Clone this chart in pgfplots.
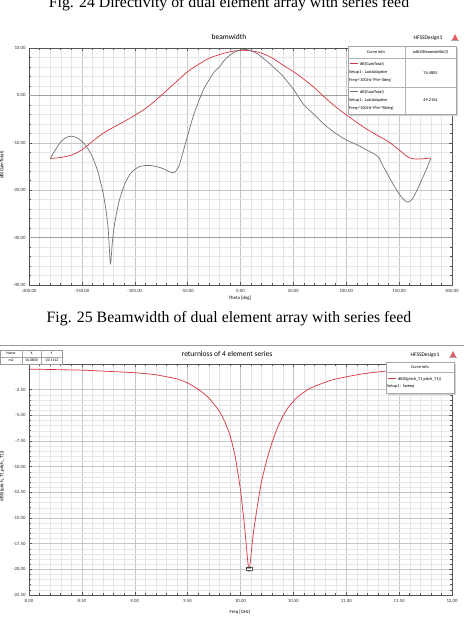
\documentclass[border=0pt]{standalone}
\usepackage{pgfplots}
\pgfplotsset{compat=1.18}
\usepackage{pgfplotstable}
\usepackage{fontspec}
\setmainfont{Liberation Serif}
\newfontfamily\hf{Carlito}

\definecolor{hfred}{RGB}{214,52,62}
\definecolor{hfgray}{RGB}{118,112,118}
\definecolor{gridmaj}{RGB}{198,198,198}
\definecolor{gridmin}{RGB}{230,230,230}
\definecolor{axcol}{RGB}{85,85,85}

% Radiation pattern cuts at 10 GHz (theta in deg, gain in dB)
\pgfplotstableread{
theta gain
-180 -13.3
-170 -13.1
-160 -12.6
-150 -11.5
-140 -9.7
-130 -8.0
-120 -6.7
-110 -5.5
-100 -4.2
-90 -2.8
-80 -1.0
-70 1.0
-60 3.0
-50 5.0
-40 6.5
-30 7.8
-20 8.6
-10 9.2
0 9.5
10 9.4
20 8.9
30 7.9
40 6.4
50 5.0
60 3.4
70 1.6
80 -0.5
90 -2.4
100 -4.1
110 -5.7
120 -7.2
130 -8.5
140 -9.8
150 -11.5
160 -13.2
170 -13.4
180 -13.2
}\phizero

\pgfplotstableread{
theta gain
-180 -13.3
-175 -11.5
-170 -9.8
-165 -8.9
-160 -8.6
-155 -8.9
-150 -9.7
-145 -11.0
-140 -13.0
-135 -16.0
-130 -20.5
-127 -24.5
-125 -28.5
-123 -35.5
-121 -30.5
-119 -27.0
-115 -22.5
-110 -19.0
-105 -16.8
-100 -15.6
-95 -15.0
-90 -14.8
-85 -14.8
-80 -15.0
-75 -15.3
-70 -15.8
-65 -16.3
-62 -16.2
-58 -14.8
-55 -12.5
-50 -8.5
-45 -4.6
-40 -1.5
-35 1.2
-30 3.2
-25 4.9
-20 6.0
-15 7.5
-10 8.5
-5 9.2
0 9.6
5 9.7
10 9.4
15 8.9
20 8.1
25 7.2
30 6.2
35 5.2
40 4.1
50 1.3
60 -2.0
70 -4.1
80 -6.3
90 -8.0
100 -9.4
110 -10.4
120 -11.6
130 -12.9
135 -15.0
140 -17.0
145 -19.0
150 -20.8
155 -22.1
158 -22.5
162 -22.0
167 -20.0
172 -17.5
176 -15.5
180 -13.3
}\phininety

% Input match of the 4 element series array
\pgfplotstableread{
freq s11
8.00 -0.50
8.50 -0.60
9.00 -0.85
9.20 -1.05
9.40 -1.45
9.50 -1.85
9.60 -2.45
9.70 -3.30
9.80 -4.60
9.85 -5.60
9.90 -6.90
9.95 -9.00
10.00 -12.30
10.04 -16.00
10.08 -20.11
10.12 -16.60
10.16 -13.80
10.20 -11.40
10.25 -9.30
10.30 -7.60
10.35 -6.20
10.40 -5.10
10.45 -4.25
10.53 -3.30
10.65 -2.40
10.85 -1.60
11.00 -1.25
11.16 -0.95
11.41 -0.65
11.70 -0.50
12.00 -0.40
}\sparam

\pgfplotsset{hfss/.style={
  scale only axis, width=423pt,
  axis line style={axcol, line width=0.8pt},
  grid=both,
  major grid style={gridmaj, line width=0.4pt},
  minor grid style={gridmin, line width=0.35pt},
  tick style={axcol, line width=0.5pt},
  major tick length=3pt, minor tick length=1.8pt,
  tick label style={font=\hf\fontsize{4.8}{5}\selectfont, text=black!80},
  xticklabel style={yshift=-0.5pt},
  /pgf/number format/fixed,
  /pgf/number format/fixed zerofill,
  /pgf/number format/precision=2,
  /pgf/number format/assume math mode=true,
}}

\newcommand{\boxfont}{\hf\fontsize{4.3}{5}\selectfont}

\begin{document}
\begin{tikzpicture}[x=1pt,y=1pt]
\path[use as bounding box] (0pt,0pt) rectangle (464pt,626pt);
\fill[white] (0pt,0pt) rectangle (464pt,626pt);

% ---------- captions ----------
\node[anchor=base, inner sep=0] at (229pt,618pt) {\fontsize{15.8}{17}\selectfont Fig. 24 Directivity of dual element array with series feed};
\node[anchor=base, inner sep=0] at (229pt,303pt) {\fontsize{15.8}{17}\selectfont Fig. 25 Beamwidth of dual element array with series feed};

% ---------- beamwidth plot ----------
\begin{axis}[hfss, at={(29pt,341pt)}, anchor=south west, height=237pt,
  xmin=-200, xmax=200, ymin=-40, ymax=10,
  xtick={-200,-150,...,200}, ytick={-40,-30,...,10},
  minor x tick num=4, minor y tick num=4,
]
\draw[gray!75, line width=0.5pt] (axis cs:-200,0) -- (axis cs:200,0);
\draw[gray!75, line width=0.5pt] (axis cs:-200,-30) -- (axis cs:200,-30);
\addplot[hfred, line width=0.7pt, smooth] table[x=theta, y=gain] {\phizero};
\addplot[hfgray, line width=0.7pt, smooth, tension=0.4] table[x=theta, y=gain] {\phininety};
\end{axis}

\node[font=\hf\fontsize{7.5}{8}\selectfont, anchor=base] at (229pt,586pt) {beamwidth};
\node[font=\hf\fontsize{5.5}{6}\selectfont, anchor=base] at (428pt,586pt) {HFSSDesign1};
\fill[hfred!80] (452pt,586pt) -- (455pt,592pt) -- (458pt,586pt) -- cycle;
\fill[gray!70] (451pt,584.5pt) rectangle (459pt,585.5pt);
\node[font=\hf\fontsize{5}{6}\selectfont, rotate=90] at (2pt,461pt) {dB(GainTotal)};
\node[font=\hf\fontsize{4.8}{5}\selectfont] at (240pt,328pt) {Theta [deg]};

% curve info box
\fill[gray!35] (350pt,510pt) rectangle (458pt,578pt);
\filldraw[fill=white, draw=gray!70, line width=0.4pt] (348pt,512pt) rectangle (456pt,580pt);
\draw[gray!60, line width=0.3pt] (348pt,568pt) -- (456pt,568pt);
\draw[gray!60, line width=0.3pt] (348pt,539pt) -- (456pt,539pt);
\draw[gray!60, line width=0.3pt] (405pt,512pt) -- (405pt,580pt);
\node[font=\boxfont] at (376pt,574pt) {Curve Info};
\node[font=\boxfont] at (430.5pt,574pt) {xdb10Beamwidth(3)};
\draw[hfred, line width=1pt] (350pt,562pt) -- (358pt,562pt);
\node[font=\boxfont, anchor=west, inner sep=0] at (360pt,562pt) {dB(GainTotal)};
\node[font=\boxfont, anchor=west, inner sep=0] at (349pt,554pt) {Setup1 : LastAdaptive};
\node[font=\boxfont, anchor=west, inner sep=0] at (349pt,546pt) {Freq='10GHz' Phi='0deg'};
\node[font=\boxfont] at (430.5pt,553pt) {76.4805};
\draw[hfgray, line width=1pt] (350pt,534pt) -- (358pt,534pt);
\node[font=\boxfont, anchor=west, inner sep=0] at (360pt,534pt) {dB(GainTotal)};
\node[font=\boxfont, anchor=west, inner sep=0] at (349pt,526pt) {Setup1 : LastAdaptive};
\node[font=\boxfont, anchor=west, inner sep=0] at (349pt,518pt) {Freq='10GHz' Phi='90deg'};
\node[font=\boxfont] at (430.5pt,526pt) {49.2154};

% ---------- return loss plot ----------
\draw[gray!80, line width=0.6pt] (0pt,281pt) -- (464pt,281pt);
\begin{axis}[hfss, at={(29pt,31pt)}, anchor=south west, height=231pt,
  xmin=8, xmax=12, ymin=-22.5, ymax=0,
  xtick={8,8.5,...,12}, ytick={-22.5,-20,...,-2.5},
  minor x tick num=4, minor y tick num=4,
]
\addplot[hfred, line width=0.7pt, smooth, tension=0.3] table[x=freq, y=s11] {\sparam};
\addplot[only marks, mark=triangle*, mark size=1.4pt, mark options={fill=white, draw=axcol, line width=0.3pt},
  nodes near coords={m2}, nodes near coords style={font=\hf\fontsize{3.5}{4}\selectfont, draw=axcol, fill=white, inner sep=0.4pt, line width=0.2pt, anchor=south, yshift=0.5pt}]
  coordinates {(10.08,-20.1112)};
\end{axis}

\node[font=\hf\fontsize{7.5}{8}\selectfont, anchor=base] at (227pt,269pt) {returnloss of 4 element series};
\node[font=\hf\fontsize{5.5}{6}\selectfont, anchor=base] at (425pt,269pt) {HFSSDesign1};
\fill[hfred!80] (450pt,269pt) -- (453pt,275pt) -- (456pt,269pt) -- cycle;
\fill[gray!70] (449pt,267.5pt) rectangle (457pt,268.5pt);
\node[font=\hf\fontsize{5}{6}\selectfont, rotate=90] at (2pt,150pt) {dB(S(pitch\_T1,pitch\_T1))};
\node[font=\hf\fontsize{4.8}{5}\selectfont] at (240pt,14pt) {Freq [GHz]};

% marker readout table
\filldraw[fill=white, draw=gray!80, line width=0.4pt] (0.3pt,262pt) rectangle (62pt,276pt);
\draw[gray!70, line width=0.3pt] (0.3pt,269pt) -- (62pt,269pt);
\draw[gray!70, line width=0.3pt] (22pt,262pt) -- (22pt,276pt) (41pt,262pt) -- (41pt,276pt);
\node[font=\hf\fontsize{3.8}{4}\selectfont] at (11pt,272.5pt) {Name};
\node[font=\hf\fontsize{3.8}{4}\selectfont] at (31.5pt,272.5pt) {X};
\node[font=\hf\fontsize{3.8}{4}\selectfont] at (51.5pt,272.5pt) {Y};
\node[font=\hf\fontsize{3.8}{4}\selectfont] at (11pt,265.5pt) {m2};
\node[font=\hf\fontsize{3.8}{4}\selectfont] at (31.5pt,265.5pt) {10.0800};
\node[font=\hf\fontsize{3.8}{4}\selectfont] at (51.5pt,265.5pt) {-20.1112};

% curve info box
\fill[gray!35] (388pt,231pt) rectangle (456pt,262pt);
\filldraw[fill=white, draw=gray!70, line width=0.4pt] (386pt,233pt) rectangle (454pt,264pt);
\draw[gray!60, line width=0.3pt] (386pt,254pt) -- (454pt,254pt);
\node[font=\boxfont] at (420pt,259pt) {Curve Info};
\draw[hfred, line width=1pt] (388pt,247pt) -- (396pt,247pt);
\node[font=\boxfont, anchor=west, inner sep=0] at (398pt,247pt) {dB(S(pitch\_T1,pitch\_T1))};
\node[font=\boxfont, anchor=west, inner sep=0] at (387pt,239.5pt) {Setup1 : Sweep};
\end{tikzpicture}
\end{document}
